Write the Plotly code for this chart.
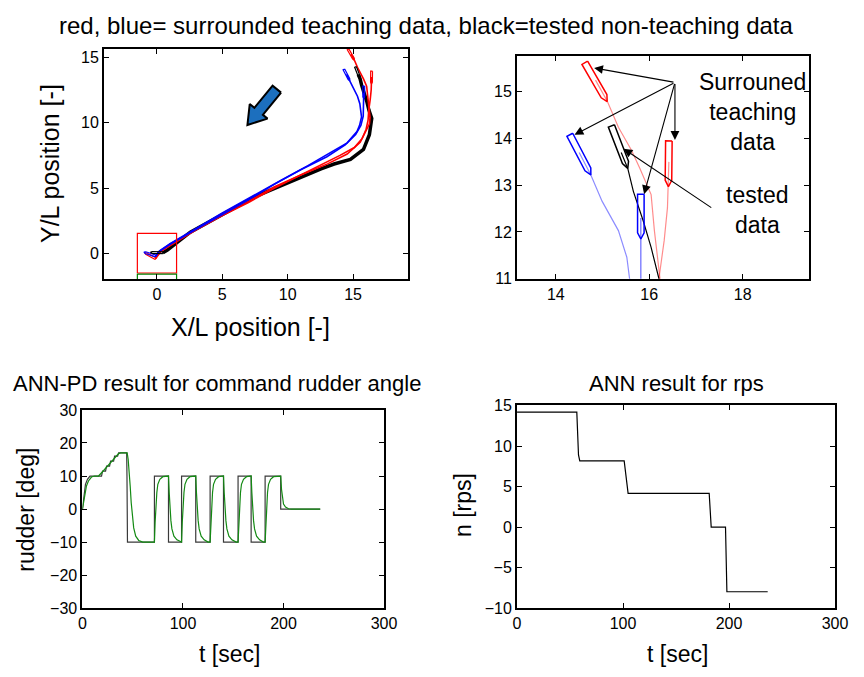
import math
import plotly.graph_objects as go

FONT = "Liberation Sans, Arial, sans-serif"

# ---------------- trajectory data (X/L, Y/L) ----------------
red1_x = [14.85, 15.1, 15.34, 15.62, 15.8, 16.04, 16.11, 16.18, 16.22, 16.3, 16.25, 16.05, 15.55, 14.55, 13.05, 11.0, 9.0, 7.0, 5.5, 4.0, 2.0, 1.0, 0.3, -0.1]
red1_y = [15.25, 14.8, 14.24, 13.75, 13.36, 12.8, 12.03, 11.4, 10.95, 10.4, 9.9, 9.5, 8.5, 7.6, 6.85, 6.0, 5.1, 4.0, 3.3, 2.4, 1.3, 0.7, 0.15, -0.4]

red2_x = [16.42, 16.41, 16.39, 16.32, 16.25, 16.2, 16.15, 16.0, 15.7, 15.1, 14.0, 13.0, 11.5, 9.0, 7.0, 5.0, 3.0, 1.0, 0.2, -0.1]
red2_y = [13.5, 12.97, 12.52, 11.82, 11.34, 10.95, 10.2, 9.5, 8.8, 8.1, 7.5, 7.0, 6.2, 5.0, 3.9, 2.9, 1.8, 0.6, 0.1, -0.35]

blue1_x = [14.5, 14.75, 14.99, 15.34, 15.52, 15.59, 15.65, 15.5, 15.3, 14.55, 13.05, 11.55, 9.5, 7.0, 5.0, 3.0, 1.0, 0.2, -0.1]
blue1_y = [13.7, 13.22, 12.66, 12.03, 11.46, 10.94, 10.45, 9.8, 9.33, 8.46, 7.59, 6.72, 5.6, 4.2, 3.1, 1.9, 0.75, 0.2, -0.2]

blue2_x = [15.82, 15.82, 15.82, 15.78, 15.6, 15.2, 14.4, 13.0, 11.0, 9.0, 7.0, 5.0, 3.0, 1.0, 0.1, -0.1]
blue2_y = [12.3, 11.85, 11.0, 10.5, 9.8, 9.1, 8.3, 7.4, 6.4, 5.3, 4.1, 3.0, 1.85, 0.7, 0.1, -0.25]

black_x = [15.4, 15.54, 15.66, 15.87, 16.04, 16.22, 16.43, 16.25, 15.8, 14.8, 13.55, 12.55, 11.05, 7.55, 5.05, 2.55, 0.8, 0.45]
black_y = [13.7, 13.36, 12.87, 12.24, 11.67, 10.95, 10.33, 9.08, 7.96, 7.2, 6.84, 6.47, 5.85, 4.36, 2.99, 1.62, 0.25, 0.05]

# ship outlines: stern and bow positions
ship_stern_x = [14.62, 14.30, 15.19, 16.42, 15.82, -0.10, -0.10, 0.45]
ship_stern_y = [15.62, 14.08, 14.27, 13.95, 12.81, -0.40, -0.20, 0.05]
ship_bow_x = [15.10, 14.75, 15.54, 16.41, 15.82, -0.95, -1.00, -0.50]
ship_bow_y = [14.79, 13.22, 13.36, 12.97, 11.85, 0.05, 0.10, 0.08]
ship_color = ["red", "blue", "black", "red", "blue", "red", "blue", "black"]

# direction arrow (tail -> tip)
arrow_tail = (9.17, 12.57)
arrow_tip = (6.92, 9.83)

# ---------------- rudder data ----------------
t_cmd = [0, 1.5, 3, 5, 7.5, 16, 19, 20, 23, 24, 27, 28, 31, 32, 35, 36, 44, 44.3, 44.8,
         71.6, 71.6, 85.6, 85.6, 98.6, 98.6, 112.7, 112.7, 127, 127, 140.3, 140.3,
         154.8, 154.8, 167.8, 167.8, 181.7, 181.7, 197.2, 197.2, 236.5]
rud_cmd = [0, 4, 7.5, 9, 10, 10, 10, 11.5, 11.5, 13, 13, 14.5, 14.5, 16, 16, 17, 17, 10, -10,
           -10, 10, 10, -10, -10, 10, 10, -10, -10, 10, 10, -10,
           -10, 10, 10, -10, -10, 10, 10, 0, 0]

t_act = [0, 2, 4, 6, 9, 12, 16, 20, 24, 28, 32, 36, 38, 44.5, 45.5, 46.5, 47.5, 48.5, 49.5, 51, 53, 56, 60,
         71.6, 72.3, 73, 74, 75, 77, 80, 84,
         85.6, 86.3, 87, 88, 89, 91, 94, 98,
         98.6, 99.3, 100, 101, 102, 104, 107, 111,
         112.7, 113.4, 114.1, 115.1, 116.1, 118.1, 121.1, 125,
         127, 127.7, 128.4, 129.4, 130.4, 132.4, 135.4, 139,
         140.3, 141, 141.7, 142.7, 143.7, 145.7, 148.7, 153,
         154.8, 155.5, 156.2, 157.2, 158.2, 160.2, 163.2, 167,
         167.8, 168.5, 169.2, 170.2, 171.2, 173.2, 176.2, 180,
         181.7, 182.4, 183.1, 184.1, 185.1, 187.1, 190.1, 194,
         197.2, 198, 199, 200, 202, 205, 208, 236.5]
rud_act = [0, 3.5, 7, 8.5, 9.7, 10, 10, 11.3, 12.6, 14, 15.3, 16.8, 17, 17, 15, 12, 7, 2, -2, -5.7, -8.2, -9.5, -10,
           -10, -4, 0.5, 5, 7.5, 9, 9.8, 10,
           10, 5, 0.5, -3.5, -6, -8.2, -9.3, -10,
           -10, -4, 0.5, 5, 7.5, 9, 9.8, 10,
           10, 5, 0.5, -3.5, -6, -8.2, -9.3, -10,
           -10, -4, 0.5, 5, 7.5, 9, 9.8, 10,
           10, 5, 0.5, -3.5, -6, -8.2, -9.3, -10,
           -10, -4, 0.5, 5, 7.5, 9, 9.8, 10,
           10, 5, 0.5, -3.5, -6, -8.2, -9.3, -10,
           -10, -4, 0.5, 5, 7.5, 9, 9.8, 10,
           10, 6, 3, 1.5, 0.6, 0.1, 0, 0]

# ---------------- rps data ----------------
t_rps = [0, 56.4, 58.0, 59.2, 101.1, 104.8, 181.3, 183.2, 196.7, 198.0, 236.5]
n_rps = [14.17, 14.17, 8.9, 8.17, 8.17, 4.17, 4.17, 0.0, 0.0, -7.97, -7.97]


def ship_outline(sx, sy, bx, by, w=0.14, shoulder=0.86):
    dx, dy = bx - sx, by - sy
    L = math.hypot(dx, dy)
    ux, uy = dx / L, dy / L
    nx, ny = -uy, ux
    hx, hy = sx + ux * shoulder * L, sy + uy * shoulder * L
    h = w / 2
    xs = [sx + nx * h, hx + nx * h, bx, hx - nx * h, sx - nx * h, sx + nx * h]
    ys = [sy + ny * h, hy + ny * h, by, hy - ny * h, sy - ny * h, sy + ny * h]
    return xs, ys


def block_arrow(tail, tip, shaft=0.42, head=0.88, head_len=1.35):
    tx, ty = tail
    px, py = tip
    dx, dy = px - tx, py - ty
    L = math.hypot(dx, dy)
    ux, uy = dx / L, dy / L
    nx, ny = -uy, ux
    bx, by = px - ux * head_len, py - uy * head_len
    pts = [
        (tx + nx * shaft, ty + ny * shaft),
        (bx + nx * shaft, by + ny * shaft),
        (bx + nx * head, by + ny * head),
        (px, py),
        (bx - nx * head, by - ny * head),
        (bx - nx * shaft, by - ny * shaft),
        (tx - nx * shaft, ty - ny * shaft),
        (tx + nx * shaft, ty + ny * shaft),
    ]
    return [p[0] for p in pts], [p[1] for p in pts]


fig = go.Figure()

# ---- top-left: overview ----
for xs, ys, c, w in [(black_x, black_y, "black", 3.5),
                     (red1_x, red1_y, "red", 1.6), (red2_x, red2_y, "red", 1.6),
                     (blue1_x, blue1_y, "blue", 1.6), (blue2_x, blue2_y, "blue", 1.6)]:
    fig.add_trace(go.Scatter(x=xs, y=ys, mode="lines", line=dict(color=c, width=w),
                             xaxis="x", yaxis="y", hoverinfo="skip"))
for i in range(len(ship_color)):
    sx, sy = ship_outline(ship_stern_x[i], ship_stern_y[i], ship_bow_x[i], ship_bow_y[i])
    fig.add_trace(go.Scatter(x=sx, y=sy, mode="lines", line=dict(color=ship_color[i], width=1.2),
                             xaxis="x", yaxis="y", hoverinfo="skip"))

ax_x, ax_y = block_arrow(arrow_tail, arrow_tip)
fig.add_trace(go.Scatter(x=ax_x, y=ax_y, mode="lines", fill="toself", fillcolor="#1c6fbe",
                         line=dict(color="black", width=2), xaxis="x", yaxis="y", hoverinfo="skip"))

# zoom window rectangles
fig.add_trace(go.Scatter(x=[-1.5, 1.5, 1.5, -1.5, -1.5], y=[-1.5, -1.5, 1.53, 1.53, -1.5], mode="lines",
                         line=dict(color="red", width=1.2), xaxis="x", yaxis="y", hoverinfo="skip"))
fig.add_trace(go.Scatter(x=[-1.5, -1.5, 1.5, 1.5], y=[-2.0, -1.58, -1.58, -2.0], mode="lines",
                         line=dict(color="green", width=1.2), xaxis="x", yaxis="y", hoverinfo="skip"))

# ---- top-right: detail ----
for xs, ys, c in [(red1_x, red1_y, "rgba(255,0,0,0.45)"), (red2_x, red2_y, "rgba(255,0,0,0.45)"),
                  (blue1_x, blue1_y, "rgba(0,0,255,0.45)"), (blue2_x, blue2_y, "rgba(0,0,255,0.6)"),
                  (black_x, black_y, "black")]:
    fig.add_trace(go.Scatter(x=xs, y=ys, mode="lines", line=dict(color=c, width=1.2),
                             xaxis="x2", yaxis="y2", hoverinfo="skip"))
for i in range(5):
    sx, sy = ship_outline(ship_stern_x[i], ship_stern_y[i], ship_bow_x[i], ship_bow_y[i])
    fig.add_trace(go.Scatter(x=sx, y=sy, mode="lines", line=dict(color=ship_color[i], width=1.5),
                             xaxis="x2", yaxis="y2", hoverinfo="skip"))

# ---- bottom-left: rudder ----
fig.add_trace(go.Scatter(x=t_cmd, y=rud_cmd, mode="lines", line=dict(color="#3a3a3a", width=1.2),
                         xaxis="x3", yaxis="y3", hoverinfo="skip"))
fig.add_trace(go.Scatter(x=t_act, y=rud_act, mode="lines", line=dict(color="#138a13", width=1.2),
                         xaxis="x3", yaxis="y3", hoverinfo="skip"))

# ---- bottom-right: rps ----
fig.add_trace(go.Scatter(x=t_rps, y=n_rps, mode="lines", line=dict(color="black", width=1.2),
                         xaxis="x4", yaxis="y4", hoverinfo="skip"))


def axis(domain, rng, tickvals, anchor):
    return dict(domain=domain, range=rng, tickvals=tickvals, anchor=anchor,
                showgrid=False, zeroline=False, showline=True, linecolor="black", linewidth=2,
                mirror="ticks", ticks="inside", ticklen=5, tickwidth=1, tickcolor="black",
                tickfont=dict(family=FONT, size=16, color="black"))


layout = dict(
    width=864, height=677, margin=dict(l=0, r=0, t=0, b=0),
    paper_bgcolor="white", plot_bgcolor="white", showlegend=False,
    font=dict(family=FONT, color="black"),
    xaxis=axis([0.1181, 0.4769], [-4.05, 19.2], [0, 5, 10, 15], "y"),
    yaxis=axis([0.5894, 0.9380], [-1.96, 15.65], [0, 5, 10, 15], "x"),
    xaxis2=axis([0.6057, 0.9499], [13.17, 19.41], [14, 16, 18], "y2"),
    yaxis2=axis([0.5898, 0.9276], [11.0, 15.77], [11, 12, 13, 14, 15], "x2"),
    xaxis3=axis([0.0926, 0.4487], [0, 300], [0, 100, 200, 300], "y3"),
    yaxis3=axis([0.0906, 0.3910], [-30, 30], [-30, -20, -10, 0, 10, 20, 30], "x3"),
    xaxis4=axis([0.6057, 0.9811], [0, 300], [0, 100, 200, 300], "y4"),
    yaxis4=axis([0.0906, 0.3978], [-10, 15], [-10, -5, 0, 5, 10, 15], "x4"),
)
fig.update_layout(**layout)

ann = []


def txt(text, x, y, size, angle=0):
    ann.append(dict(text=text, x=x, y=y, xref="paper", yref="paper", showarrow=False,
                    xanchor="center", yanchor="middle", textangle=angle,
                    font=dict(family=FONT, size=size, color="black")))


txt("red, blue= surrounded teaching data, black=tested non-teaching data", 0.4988, 0.9734, 24)
txt("ANN-PD result for command rudder angle", 0.2512, 0.4313, 22)
txt("ANN result for rps", 0.794, 0.4313, 22)
txt("X/L position [-]", 0.2905, 0.517, 25)
txt("Y/L position [-]", 0.0544, 0.7637, 25, -90)
txt("rudder [deg]", 0.0255, 0.2393, 23, -90)
txt("t [sec]", 0.2662, 0.0207, 23)
txt("n [rps]", 0.5417, 0.2467, 23, -90)
txt("t [sec]", 0.7951, 0.0207, 23)
txt("Surrouned<br>teaching<br>data", 0.884, 0.842, 23)
txt("tested<br>data", 0.8898, 0.6942, 23)

# pointer arrows in the detail plot
src = (16.55, 15.2)
targets = [(14.82, 15.51), (14.4, 14.08), (16.55, 13.97), (15.89, 12.81)]
for tx, ty in targets:
    ann.append(dict(x=tx, y=ty, ax=src[0], ay=src[1], xref="x2", yref="y2", axref="x2", ayref="y2",
                    text="", showarrow=True, arrowhead=2, arrowsize=1.6, arrowwidth=1.1,
                    arrowcolor="black", standoff=0))
ann.append(dict(x=15.45, y=13.78, ax=17.36, ay=12.5, xref="x2", yref="y2", axref="x2", ayref="y2",
                text="", showarrow=True, arrowhead=2, arrowsize=1.6, arrowwidth=1.1,
                arrowcolor="black", standoff=0))

fig.update_layout(annotations=ann)
fig.write_html("out.html")
